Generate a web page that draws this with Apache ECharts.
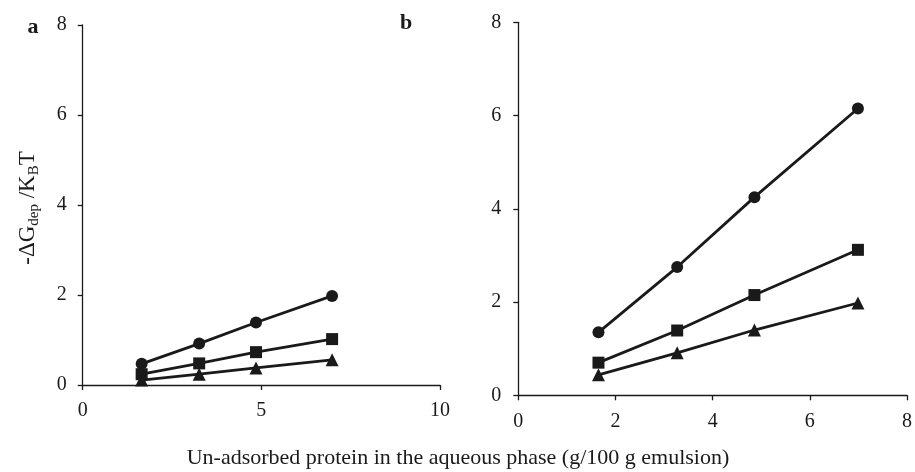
<!DOCTYPE html>
<html><head><meta charset="utf-8">
<script src="https://cdn.jsdelivr.net/npm/echarts@6/dist/echarts.min.js"></script>
<style>html,body{margin:0;padding:0;background:#fff}#c{width:915px;height:472px}</style>
</head><body><div id="c"></div>
<script>
const xValsA = [1.65, 3.26, 4.85, 6.98];
const circleA = [0.47, 0.92, 1.39, 1.98];
const squareA = [0.24, 0.48, 0.73, 1.02];
const triangleA = [0.11, 0.24, 0.38, 0.56];
const xValsB = [1.65, 3.27, 4.86, 6.99];
const circleB = [1.35, 2.75, 4.25, 6.15];
const squareB = [0.70, 1.39, 2.15, 3.12];
const triangleB = [0.44, 0.91, 1.40, 1.98];
const panelLabels = ['a', 'b'];
const xTitle = 'Un-adsorbed protein in the aqueous phase (g/100 g emulsion)';

const FONT = 'Liberation Serif';
const INK = '#1a1a1a';
function pairs(xs, ys) { return xs.map((x, i) => [x, ys[i]]); }
function axisCommon(min, max, interval, margin) {
  return {
    type: 'value', min, max, interval,
    axisLine: { show: true, onZero: false, lineStyle: { color: INK, width: 1.3 } },
    axisTick: { show: true, inside: false, length: 5, lineStyle: { color: INK, width: 1.3 } },
    axisLabel: { color: INK, fontFamily: FONT, fontSize: 20, margin },
    splitLine: { show: false }
  };
}
function series(data, symbol, size, idx) {
  return {
    type: 'line', data, symbol, symbolSize: size, xAxisIndex: idx, yAxisIndex: idx,
    lineStyle: { color: INK, width: 2.8 }, itemStyle: { color: INK },
    showSymbol: true, animation: false, z: 3
  };
}
const chart = echarts.init(document.getElementById('c'));
chart.setOption({
  backgroundColor: '#fff',
  animation: false,
  grid: [
    { left: 82.7, top: 25, width: 357.3, height: 360 },
    { left: 518.3, top: 22.3, width: 391, height: 373 }
  ],
  xAxis: [
    Object.assign(axisCommon(0, 10, 5, 16), { gridIndex: 0 }),
    Object.assign(axisCommon(0, 8, 2, 16), { gridIndex: 1 })
  ],
  yAxis: [
    Object.assign(axisCommon(0, 8, 2, 16), { gridIndex: 0 }),
    Object.assign(axisCommon(0, 8, 2, 17), { gridIndex: 1 })
  ],
  series: [
    series(pairs(xValsA, circleA), 'circle', 12, 0),
    series(pairs(xValsA, squareA), 'rect', 12, 0),
    series(pairs(xValsA, triangleA), 'triangle', 13, 0),
    series(pairs(xValsB, circleB), 'circle', 12, 1),
    series(pairs(xValsB, squareB), 'rect', 12, 1),
    series(pairs(xValsB, triangleB), 'triangle', 13, 1)
  ],
  graphic: [
    { type: 'text', x: 33, y: 27, style: { text: panelLabels[0], font: 'bold 22px "Liberation Serif"', fill: INK, align: 'center', verticalAlign: 'middle' } },
    { type: 'text', x: 406, y: 23, style: { text: panelLabels[1], font: 'bold 22px "Liberation Serif"', fill: INK, align: 'center', verticalAlign: 'middle' } },
    { type: 'text', x: 458, y: 458, style: { text: xTitle, font: '22px "Liberation Serif"', fill: INK, align: 'center', verticalAlign: 'middle' } },
    { type: 'text', x: 28, y: 208, rotation: Math.PI / 2,
      style: {
        text: '{m|-ΔG}{s|dep}{m| /K}{s|B}{m|T}',
        align: 'center', verticalAlign: 'middle',
        rich: {
          m: { fontFamily: FONT, fontSize: 23, fill: INK, color: INK },
          s: { fontFamily: FONT, fontSize: 15, fill: INK, color: INK, padding: [13, 0, 0, 0] }
        }
      }
    }
  ]
});
</script></body></html>
